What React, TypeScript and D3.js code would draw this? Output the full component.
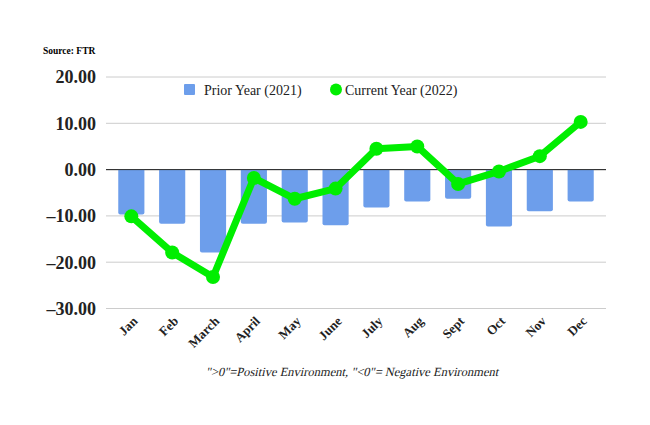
import React from 'react';
import * as d3 from 'd3';

const months = ['Jan', 'Feb', 'March', 'April', 'May', 'June', 'July', 'Aug', 'Sept', 'Oct', 'Nov', 'Dec'];
const prior2021 = [-9.7, -11.7, -17.9, -11.7, -11.4, -12.0, -8.2, -6.9, -6.3, -12.3, -9.0, -6.9];
const current2022 = [-10.1, -17.9, -23.2, -1.8, -6.3, -4.1, 4.5, 5.0, -3.1, -0.4, 2.9, 10.3];
const yTicks = [20, 10, 0, -10, -20, -30];

const W = 650;
const H = 425;
const margin = { top: 77, right: 44, bottom: 117, left: 106 };
const font = '"Liberation Serif", "Times New Roman", serif';

export default function App() {
  const x = d3.scaleBand<string>()
    .domain(months)
    .range([margin.left, W - margin.right])
    .paddingInner(0.36)
    .paddingOuter(0.3);
  const y = d3.scaleLinear().domain([-30, 20]).range([H - margin.bottom + 0.5, margin.top]);

  const cx = (m: string) => (x(m) ?? 0) + x.bandwidth() / 2;

  const line = d3.line<number>()
    .x((_, i) => cx(months[i]))
    .y(d => y(d));

  // bars hang down from zero, small rounding on the far end
  const barPath = (m: string, v: number) => {
    const x0 = x(m) ?? 0;
    const w = x.bandwidth();
    const y0 = y(0);
    const y1 = y(v);
    const r = 2;
    return `M${x0},${y0} L${x0},${y1 - r} Q${x0},${y1} ${x0 + r},${y1} L${x0 + w - r},${y1} Q${x0 + w},${y1} ${x0 + w},${y1 - r} L${x0 + w},${y0} Z`;
  };

  const fmt = (v: number) => (v < 0 ? '\u2013' + Math.abs(v).toFixed(2) : v.toFixed(2));

  return (
    <svg width={W} height={H} style={{ display: 'block', position: 'absolute', left: 0, top: 0, background: '#fff' }} fontFamily={font}>
      <text x={43} y={54} fontSize={9.5} fontWeight="bold" fill="#000">Source: FTR</text>

      {yTicks.map(t => (
        <g key={t}>
          <line x1={margin.left} x2={W - margin.right} y1={y(t)} y2={y(t)}
            stroke={t === 0 ? '#333' : '#ccc'} strokeWidth={1} />
          <text x={96} y={y(t)} dy="0.36em" textAnchor="end" fontSize={18} fontWeight="bold" fill="#222">{fmt(t)}</text>
        </g>
      ))}

      {months.map((m, i) => (
        <path key={m} d={barPath(m, prior2021[i])} fill="#6d9eeb" />
      ))}
      <line x1={margin.left} x2={W - margin.right} y1={y(0)} y2={y(0)} stroke="#333" strokeWidth={1} />

      <path d={line(current2022) ?? ''} fill="none" stroke="#00ee00" strokeWidth={7} strokeLinejoin="round" />
      {current2022.map((v, i) => (
        <circle key={i} cx={cx(months[i])} cy={y(v)} r={7} fill="#00ee00" />
      ))}

      {months.map(m => (
        <text key={m} transform={`translate(${cx(m) + 7},${322}) rotate(-45)`} textAnchor="end"
          fontSize={13} fontWeight="bold" fill="#222">{m}</text>
      ))}

      <g transform="translate(184,84)">
        <rect x={0} y={0} width={11} height={11} rx={1} fill="#6d9eeb" />
        <text x={20} y={10.5} fontSize={14} fill="#222">Prior Year (2021)</text>
        <circle cx={152} cy={5.5} r={6} fill="#00ee00" />
        <text x={161} y={10.5} fontSize={14} fill="#222">Current Year (2022)</text>
      </g>

      <g transform="translate(352,376) skewX(-13)">
        <text x={0} y={0} textAnchor="middle" fontSize={12.5} fill="#222">
          "&gt;0"=Positive Environment, "&lt;0"= Negative Environment
        </text>
      </g>
    </svg>
  );
}
